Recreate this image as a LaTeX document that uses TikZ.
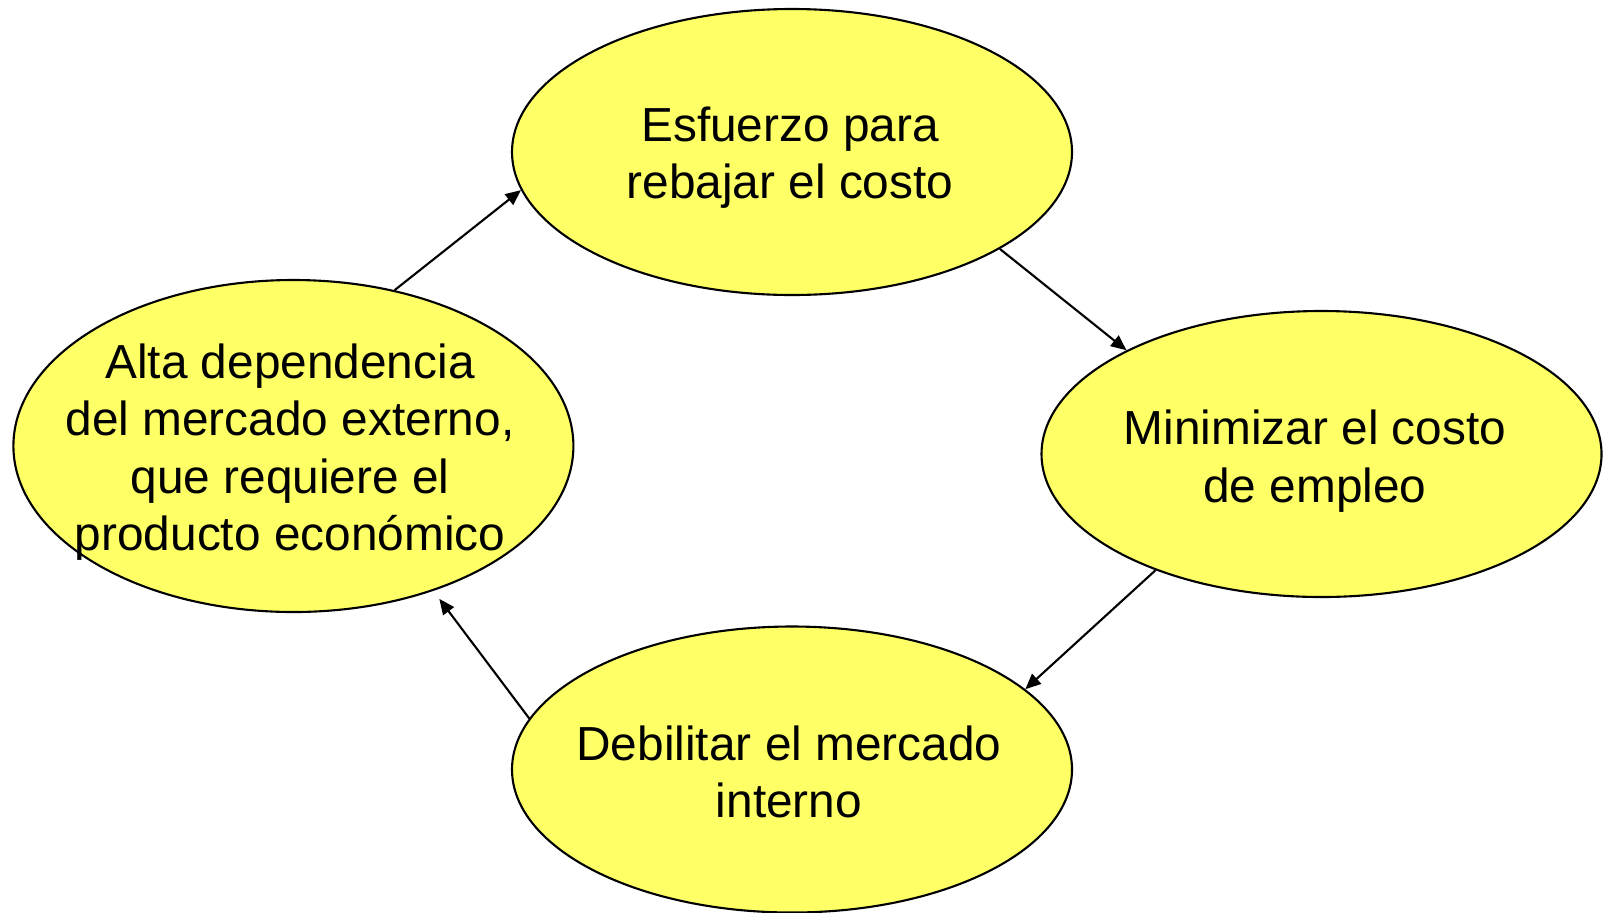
\documentclass[tikz,border=0pt]{standalone}
\usepackage{fontspec}
\setmainfont{Liberation Sans}
\usetikzlibrary{shapes,arrows.meta}
\definecolor{amarillo}{RGB}{255,255,102}

\begin{document}
\begin{tikzpicture}[auto,>={Triangle[length=4.4pt,width=3.8pt]},
    elipse/.style={ellipse,draw,fill=amarillo,line width=0.6pt,inner sep=0pt,minimum width=5.6cm,minimum height=2.86cm},
    texto/.style={align=center,inner sep=0pt,font=\fontsize{13.6}{16.3}\selectfont}]
    \useasboundingbox (0,0) rectangle (16.03,-9.12);
    \node[elipse] (esfuerzo) at (7.92, -1.52) {};
    \node[elipse] (minimizar) at (13.215, -4.54) {};
    \node[elipse] (debilitar) at (7.92, -7.695) {};
    \node[elipse,minimum height=3.32cm] (alta) at (2.934, -4.46) {};

    \node[texto] (esfuerzo-t) at (7.90, -1.58) {Esfuerzo para\\rebajar el costo};
    \node[texto] (minimizar-t) at (13.15, -4.61) {Minimizar el costo\\de empleo};
    \node[texto] (debilitar-t) at (7.89, -7.72) {Debilitar el mercado\\interno};
    \node[texto] (alta-t) at (2.90, -4.52) {Alta dependencia\\del mercado externo,\\que requiere el\\producto económico};

    \path[->,line width=0.6pt] (alta.57) edge (esfuerzo.188);
    \path[->,line width=0.6pt] (esfuerzo.-25) edge (minimizar.152);
    \path[->,line width=0.6pt] (minimizar.215.6) edge (debilitar.19);
    \path[->,line width=0.6pt,shorten >=0.1cm] (debilitar.169) edge (alta.-46.6);
  \end{tikzpicture}
\end{document}
